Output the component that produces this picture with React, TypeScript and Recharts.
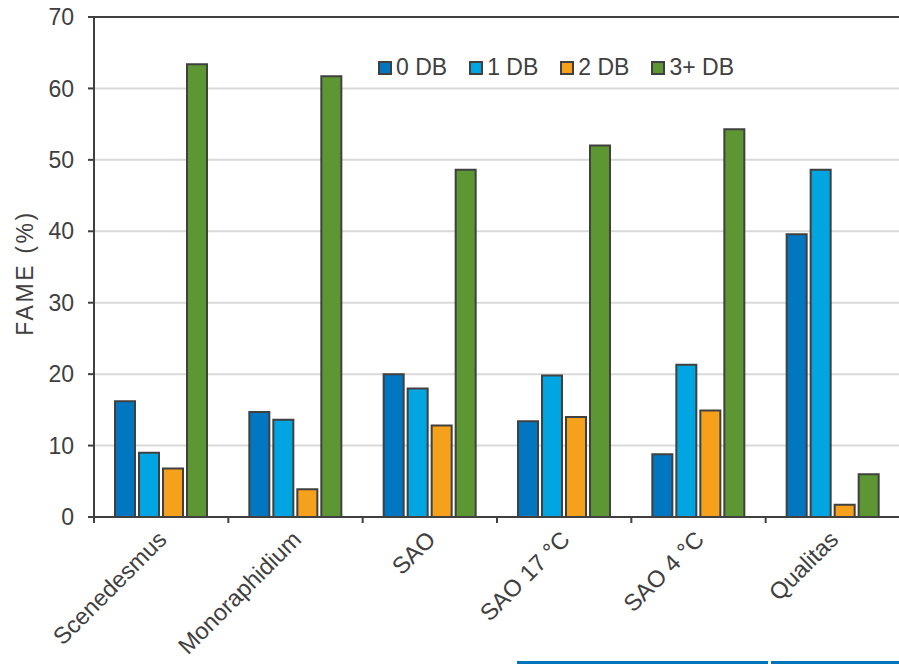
import React from "react";
import {
  BarChart,
  Bar,
  XAxis,
  YAxis,
  CartesianGrid,
  Legend,
  ReferenceLine,
} from "recharts";

const categories = ["Scenedesmus", "Monoraphidium", "SAO", "SAO 17 °C", "SAO 4 °C", "Qualitas"];
const db0 = [16.2, 14.7, 20.0, 13.4, 8.8, 39.6];
const db1 = [9.0, 13.6, 18.0, 19.8, 21.3, 48.6];
const db2 = [6.8, 3.9, 12.8, 14.0, 14.9, 1.7];
const db3 = [63.4, 61.7, 48.6, 52.0, 54.3, 6.0];
const yTicks = [0, 10, 20, 30, 40, 50, 60, 70];

const SERIES = [
  { key: "db0", name: "0 DB", color: "#0077C0" },
  { key: "db1", name: "1 DB", color: "#00A5E2" },
  { key: "db2", name: "2 DB", color: "#F6A11B" },
  { key: "db3", name: "3+ DB", color: "#5C9733" },
];

const data = categories.map((name, i) => ({
  name,
  db0: db0[i],
  db1: db1[i],
  db2: db2[i],
  db3: db3[i],
}));

const TEXT = "#404040";
const FONT = "Arial, 'Liberation Sans', sans-serif";
const LEFT = 94;
const TOP = 17;
const BOTTOM = 517;
const CHART_W = 901;
const CHART_H = 664;
const PLOT_W = CHART_W - 1 - LEFT;
const BAND = PLOT_W / categories.length;

function CategoryTick(props: any) {
  const { x, payload, index } = props;
  const ax = x + 7;
  const ay = 541;
  return (
    <g>
      <line x1={x - BAND / 2} y1={BOTTOM} x2={x - BAND / 2} y2={BOTTOM + 6} stroke={TEXT} strokeWidth={2} />
      {index === categories.length - 1 && (
        <line x1={x + BAND / 2} y1={BOTTOM} x2={x + BAND / 2} y2={BOTTOM + 6} stroke={TEXT} strokeWidth={2} />
      )}
      <text
        x={ax}
        y={ay}
        textAnchor="end"
        fill={TEXT}
        fontSize={23.5}
        fontFamily={FONT}
        transform={`rotate(-45, ${ax}, ${ay})`}
      >
        {payload.value}
      </text>
    </g>
  );
}

function YTitle(props: any) {
  const { viewBox } = props;
  const cx = 25;
  const cy = viewBox.y + viewBox.height / 2 + 6;
  return (
    <text
      x={cx}
      y={cy}
      textAnchor="middle"
      dominantBaseline="central"
      fill={TEXT}
      fontSize={23}
      letterSpacing={2.6}
      fontFamily={FONT}
      transform={`rotate(-90, ${cx}, ${cy})`}
    >
      FAME (%)
    </text>
  );
}

function LegendContent() {
  return (
    <div style={{ display: "flex", alignItems: "center", fontFamily: FONT, fontSize: 23, color: TEXT }}>
      {SERIES.map((s) => (
        <div key={s.key} style={{ display: "flex", alignItems: "center", marginRight: 22 }}>
          <span
            style={{
              display: "inline-block",
              width: 10,
              height: 10,
              background: s.color,
              border: `2px solid ${TEXT}`,
              marginRight: 4,
            }}
          />
          <span>{s.name}</span>
        </div>
      ))}
    </div>
  );
}

export default function App() {
  return (
    <div
      style={{
        position: "fixed",
        left: 0,
        top: 0,
        width: 899,
        height: 664,
        overflow: "hidden",
        background: "#fff",
      }}
    >
      <BarChart
        width={CHART_W}
        height={CHART_H}
        data={data}
        margin={{ top: TOP, right: 1, bottom: 0, left: 0 }}
        barCategoryGap={21}
        barGap={4}
      >
        <CartesianGrid vertical={false} stroke="#D9D9D9" strokeWidth={2} />
        <ReferenceLine y={70} stroke={TEXT} strokeWidth={2} />
        <XAxis
          dataKey="name"
          height={CHART_H - BOTTOM}
          interval={0}
          tickLine={false}
          axisLine={{ stroke: TEXT, strokeWidth: 2 }}
          tick={<CategoryTick />}
        />
        <YAxis
          width={LEFT}
          domain={[0, 70]}
          ticks={yTicks}
          interval={0}
          tickSize={6}
          tickMargin={14}
          axisLine={{ stroke: TEXT, strokeWidth: 2 }}
          tickLine={{ stroke: TEXT, strokeWidth: 2 }}
          tick={{ fill: TEXT, fontSize: 23, fontFamily: FONT }}
          label={<YTitle />}
        />
        <Legend
          verticalAlign="middle"
          align="center"
          content={<LegendContent />}
          wrapperStyle={{ top: 54, left: 378, width: "auto" }}
        />
        {SERIES.map((s) => (
          <Bar
            key={s.key}
            dataKey={s.key}
            name={s.name}
            fill={s.color}
            stroke={TEXT}
            strokeWidth={2}
            isAnimationActive={false}
          />
        ))}
      </BarChart>
      <div style={{ position: "absolute", left: 517, top: 661, width: 251, height: 3, background: "#0075BC" }} />
      <div style={{ position: "absolute", left: 771, top: 661, width: 128, height: 3, background: "#0075BC" }} />
    </div>
  );
}
